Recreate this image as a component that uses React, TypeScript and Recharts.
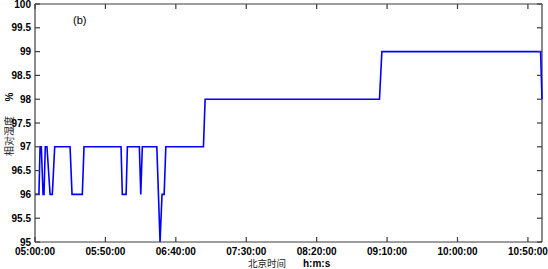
import React from "react";
import { LineChart, Line, XAxis, YAxis, ReferenceLine } from "recharts";

// minutes after 05:00:00 and relative humidity (%)
const minutes = [
  0, 2.8, 3.6, 4.5, 5.7, 6.4, 7.3, 8.5, 10.7, 12.3, 14.0, 24.9, 26.3, 33.6, 34.8,
  61.1, 62.0, 64.7, 65.6, 74.1, 75.1, 76.2, 86.5, 88.8, 90.2, 91.7, 92.9,
  119.6, 120.8, 244.6, 246.3, 359.0, 360,
];
const humidity = [
  96, 96, 97, 97, 96, 96, 97, 97, 96, 96, 97, 97, 96, 96, 97,
  97, 96, 96, 97, 97, 96, 97, 97, 95, 96, 96, 97,
  97, 98, 98, 99, 99, 98,
];
const xTicks = [0, 50, 100, 150, 200, 250, 300, 350];
const yTicks = [95, 95.5, 96, 96.5, 97, 97.5, 98, 98.5, 99, 99.5, 100];

const data = minutes.map((t, i) => ({ t, v: humidity[i] }));

const W = 548;
const H = 269;
const MARGIN = { top: 4, right: 6, bottom: 0, left: 0 };
const PLOT_TOP = MARGIN.top;
const PLOT_RIGHT = W - MARGIN.right;

const AXIS = "#3c3c3c";
const TICK_FONT = {
  fontFamily: "'Liberation Sans', Arial, sans-serif",
  fontWeight: 700,
  fontSize: 10,
  fill: "#000",
};
const CJK = "'Noto Sans CJK SC', sans-serif";

const pad = (n: number) => String(n).padStart(2, "0");
const fmtTime = (m: number) => {
  const h = 5 + Math.floor(m / 60);
  return `${pad(h)}:${pad(m % 60)}:00`;
};

const X_MARGIN = 6;
const Y_MARGIN = 4;

const BottomTick = (props: any) => {
  const { x, y, payload } = props;
  const axisY = y - X_MARGIN;
  return (
    <g>
      <line x1={x} x2={x} y1={axisY} y2={axisY - 5} stroke={AXIS} strokeWidth={1.2} />
      <line x1={x} x2={x} y1={PLOT_TOP} y2={PLOT_TOP + 5} stroke={AXIS} strokeWidth={1.2} />
      <text x={x} y={y} dy="0.72em" textAnchor="middle" {...TICK_FONT}>
        {fmtTime(payload.value)}
      </text>
    </g>
  );
};

const LeftTick = (props: any) => {
  const { x, y, payload } = props;
  const axisX = x + Y_MARGIN;
  return (
    <g>
      <line x1={axisX} x2={axisX + 5} y1={y} y2={y} stroke={AXIS} strokeWidth={1.2} />
      <line x1={PLOT_RIGHT} x2={PLOT_RIGHT - 5} y1={y} y2={y} stroke={AXIS} strokeWidth={1.2} />
      <text x={x} y={y} dy="0.35em" textAnchor="end" {...TICK_FONT}>
        {payload.value}
      </text>
    </g>
  );
};

export default function App() {
  return (
    <div style={{ position: "absolute", left: 0, top: 0, background: "#fff" }}>
      <LineChart width={W} height={H} data={data} margin={MARGIN}>
        <ReferenceLine y={100} stroke={AXIS} strokeWidth={1.2} ifOverflow="visible" />
        <ReferenceLine x={360} stroke={AXIS} strokeWidth={1.2} ifOverflow="visible" />
        <XAxis
          dataKey="t"
          type="number"
          domain={[0, 360]}
          ticks={xTicks}
          height={27}
          tickLine={false}
          tickSize={0}
          tickMargin={X_MARGIN}
          tick={<BottomTick />}
          axisLine={{ stroke: AXIS, strokeWidth: 1.2 }}
          interval={0}
          label={{
            content: () => (
              <g>
                <text x={248} y={267} fontFamily={CJK} fontSize={9.5} fill="#222">
                  北京时间
                </text>
                <text x={303} y={267} {...TICK_FONT}>
                  h:m:s
                </text>
                <text
                  x={73}
                  y={24}
                  fontFamily="'Liberation Sans', Arial, sans-serif"
                  fontSize={11}
                  fill="#000"
                >
                  (b)
                </text>
              </g>
            ),
          }}
        />
        <YAxis
          type="number"
          domain={[95, 100]}
          ticks={yTicks}
          width={35}
          tickLine={false}
          tickSize={0}
          tickMargin={Y_MARGIN}
          tick={<LeftTick />}
          axisLine={{ stroke: AXIS, strokeWidth: 1.2 }}
          interval={0}
          label={{
            content: () => (
              <g>
                <text
                  x={9}
                  y={97}
                  transform="rotate(-90 9 97)"
                  textAnchor="middle"
                  dy="0.35em"
                  {...TICK_FONT}
                >
                  %
                </text>
                <text
                  x={9}
                  y={136}
                  transform="rotate(-90 9 136)"
                  textAnchor="middle"
                  dy="0.35em"
                  fontFamily={CJK}
                  fontSize={10}
                  fill="#222"
                >
                  相对湿度
                </text>
              </g>
            ),
          }}
        />
        <Line
          type="linear"
          dataKey="v"
          stroke="#0000ff"
          strokeWidth={1.6}
          dot={false}
          activeDot={false}
          isAnimationActive={false}
        />
      </LineChart>
    </div>
  );
}
